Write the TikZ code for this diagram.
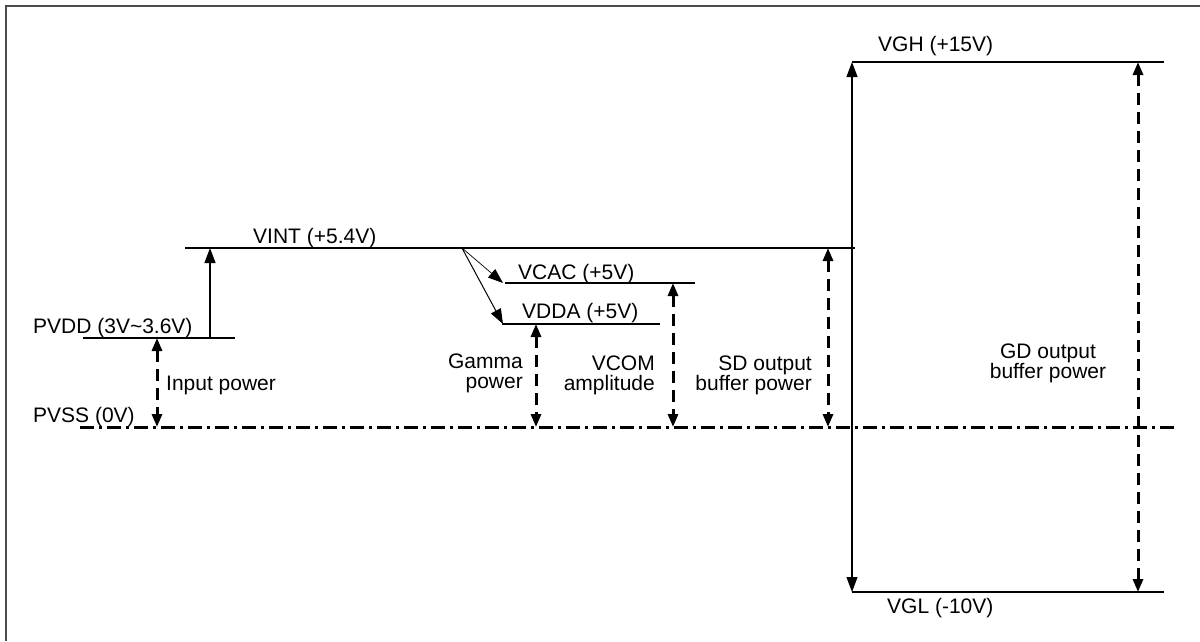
\documentclass[tikz,border=0pt]{standalone}
\usepackage{fontspec}
\setmainfont{Liberation Sans}
\usetikzlibrary{arrows.meta}
\tikzset{
  lbl/.style={inner sep=0pt, font=\fontsize{21}{20}\selectfont},
  level/.style={line width=1.2pt, black},
  solidarr/.style={line width=1.2pt, -{Triangle[length=15pt,width=11pt]}},
  solidboth/.style={line width=1.2pt, {Triangle[length=15pt,width=11pt]}-{Triangle[length=15pt,width=11pt]}},
  thinarr/.style={line width=0.7pt, -{Triangle[length=15pt,width=11pt]}},
  dasharr/.style={line width=3pt, dash pattern=on 12pt off 7pt, {Triangle[length=13pt,width=10pt]}-{Triangle[length=13pt,width=10pt]}},
  dashdot/.style={line width=3pt, dash pattern=on 14pt off 5pt on 3pt off 5pt},
  frame/.style={line width=2pt, black!70}
}
\begin{document}
\begin{tikzpicture}[x=1pt,y=-1pt]
\useasboundingbox (0,0) rectangle (1200,641);
% frame
\draw[frame] (6,641) -- (6,6) -- (1200,6);
% coordinates
\coordinate (vintL) at (185,248);
\coordinate (vintR) at (855,248);
\coordinate (pvddL) at (83,338);
\coordinate (pvddR) at (235,338);
\coordinate (pvssL) at (80,427);
\coordinate (pvssR) at (1178,427);
\coordinate (vcacL) at (505,283);
\coordinate (vcacR) at (695,283);
\coordinate (vddaL) at (502,324);
\coordinate (vddaR) at (660,324);
\coordinate (vghL) at (852,62);
\coordinate (vghR) at (1164,62);
\coordinate (vglL) at (852,592);
\coordinate (vglR) at (1164,592);
\coordinate (split) at (462,248);
% levels
\draw[level] (vintL) -- (vintR);
\draw[level] (pvddL) -- (pvddR);
\draw[level] (vcacL) -- (vcacR);
\draw[level] (vddaL) -- (vddaR);
\draw[level] (vghL) -- (vghR);
\draw[level] (vglL) -- (vglR);
\draw[dashdot] (pvssL) -- (pvssR);
% arrows
\draw[solidarr] (210,338) -- (210,248);
\draw[solidboth] (vghL) -- (vglL);
\draw[thinarr] (split) -- (503,283);
\draw[solidarr, line width=1pt] (split) -- (503,324);
\draw[dasharr] (157,338) -- (157,427);
\draw[dasharr] (536,324) -- (536,427);
\draw[dasharr] (673,283) -- (673,427);
\draw[dasharr] (828,248) -- (828,427);
\draw[dasharr] (1138,62) -- (1138,592);
% labels
\node[lbl, anchor=base west] (tvint) at (253,243) {VINT (+5.4V)};
\node[lbl, anchor=base west] (tpvdd) at (33,333) {PVDD (3V\textasciitilde3.6V)};
\node[lbl, anchor=base west] (tpvss) at (33,422) {PVSS (0V)};
\node[lbl, anchor=base west] (tin) at (166,390) {Input power};
\node[lbl, anchor=base west] (tvcac) at (518,279) {VCAC (+5V)};
\node[lbl, anchor=base west] (tvdda) at (522,318) {VDDA (+5V)};
\node[lbl, anchor=base west] (tvgh) at (878,51) {VGH (+15V)};
\node[lbl, anchor=base west] (tvgl) at (887,613) {VGL (-10V)};
\node[lbl, anchor=base east, align=right] (tgam) at (523,388) {Gamma\\power};
\node[lbl, anchor=base east, align=right] (tvcom) at (655,390) {VCOM\\amplitude};
\node[lbl, anchor=base east, align=right] (tsd) at (812,390) {SD output\\buffer power};
\node[lbl, anchor=base, align=center] (tgd) at (1048,378) {GD output\\buffer power};
\end{tikzpicture}
\end{document}
